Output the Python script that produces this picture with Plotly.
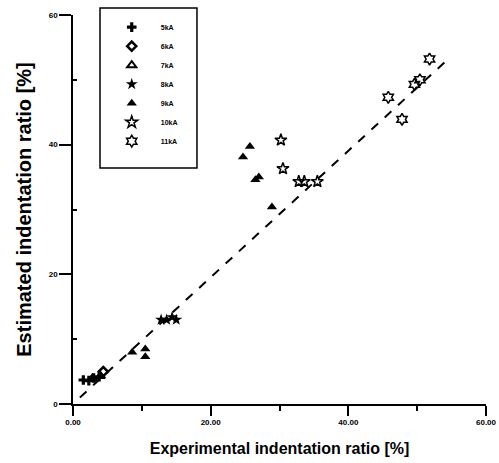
import plotly.graph_objects as go

# ---- data ----
s5_x = [1.5, 2.3, 3.0, 3.8]
s5_y = [3.7, 3.6, 4.0, 4.2]
s6_x = [4.4]
s6_y = [5.0]
s7_x = [2.8, 4.0]
s7_y = [3.9, 4.3]
s8_x = [12.8, 13.6, 14.4, 15.0]
s8_y = [13.0, 13.0, 13.4, 13.0]
s9_x = [8.6, 10.5, 10.5, 24.7, 25.7, 26.5, 27.0, 28.9]
s9_y = [8.0, 8.5, 7.3, 38.1, 39.7, 34.6, 35.0, 30.4]
s10_x = [30.2, 30.5, 32.8, 33.6, 35.5]
s10_y = [40.7, 36.3, 34.3, 34.3, 34.3]
s11_x = [45.8, 47.8, 49.6, 50.4, 51.8]
s11_y = [47.3, 43.9, 49.3, 50.0, 53.2]
ref_x = [1.0, 54.4]
ref_y = [1.0, 53.1]

x_ticks = [0, 20, 40, 60]
x_tick_labels = ["0.00", "20.00", "40.00", "60.00"]
y_ticks = [0, 20, 40, 60]
y_tick_labels = ["0", "20", "40", "60"]

series = [
    ("5kA", s5_x, s5_y, dict(symbol="cross", size=8, color="black")),
    ("6kA", s6_x, s6_y, dict(symbol="diamond-open", size=7, color="black", line=dict(width=2.5, color="black"))),
    ("7kA", s7_x, s7_y, dict(symbol="triangle-up-open", size=8, color="black", line=dict(width=2, color="black"))),
    ("8kA", s8_x, s8_y, dict(symbol="star", size=9, color="black")),
    ("9kA", s9_x, s9_y, dict(symbol="triangle-up", size=9, color="black")),
    ("10kA", s10_x, s10_y, dict(symbol="star-open", size=9, color="black", line=dict(width=1.5, color="black"))),
    ("11kA", s11_x, s11_y, dict(symbol="hexagram-open", size=9, color="black", line=dict(width=1.5, color="black"))),
]

fig = go.Figure()
fig.add_trace(go.Scatter(x=ref_x, y=ref_y, mode="lines", showlegend=False,
                         line=dict(color="black", width=2, dash="dash")))
for name, xs, ys, mk in series:
    fig.add_trace(go.Scatter(x=xs, y=ys, mode="markers", name=name, marker=mk))

FAM = "Liberation Sans, Arial, sans-serif"
bold = dict(family=FAM, size=8, color="black")

fig.update_layout(
    template="none",
    width=499, height=463,
    margin=dict(l=73, r=13, t=15, b=59),
    font=dict(family=FAM, color="black"),
    paper_bgcolor="white", plot_bgcolor="white",
    showlegend=True,
    legend=dict(x=0.072, y=1.006, xanchor="left", yanchor="top",
                borderwidth=0, bgcolor="rgba(0,0,0,0)",
                font=dict(family=FAM, size=7, color="black", weight="bold"),
                itemwidth=48, entrywidth=40, entrywidthmode="pixels", tracegroupgap=0),
    shapes=[dict(type="rect", xref="paper", yref="paper",
                 x0=0.0654, x1=0.3002, y0=0.6067, y1=1.018,
                 line=dict(color="black", width=1.5), fillcolor="rgba(0,0,0,0)", layer="above")],
    xaxis=dict(range=[0, 60], tickvals=x_ticks, ticktext=["<b>%s</b>" % t for t in x_tick_labels],
               showgrid=False, zeroline=False, showline=True, linecolor="black", linewidth=1.5,
               ticks="outside", ticklen=10, tickwidth=1.5, tickcolor="black",
               minor=dict(tickvals=[10, 30, 50], ticks="outside", ticklen=5, tickwidth=1.5, tickcolor="black"),
               tickfont=bold,
               title=dict(text="Experimental indentation ratio [%]", standoff=16,
                          font=dict(family=FAM, size=16, color="black", weight="bold"))),
    yaxis=dict(range=[0, 60], tickvals=y_ticks, ticktext=["<b>%s</b>" % t for t in y_tick_labels],
               showgrid=False, zeroline=False, showline=True, linecolor="black", linewidth=1.5,
               ticks="outside", ticklen=12, tickwidth=1.5, tickcolor="black",
               minor=dict(tickvals=[10, 30, 50], ticks="inside", ticklen=4, tickwidth=1.5, tickcolor="black"),
               tickfont=bold,
               title=dict(text="Estimated indentation ratio [%]", standoff=12,
                          font=dict(family=FAM, size=20, color="black", weight="bold"))),
)

fig.write_html("out.html", config={"displayModeBar": False},
               post_script="document.body.style.margin='0px';")
